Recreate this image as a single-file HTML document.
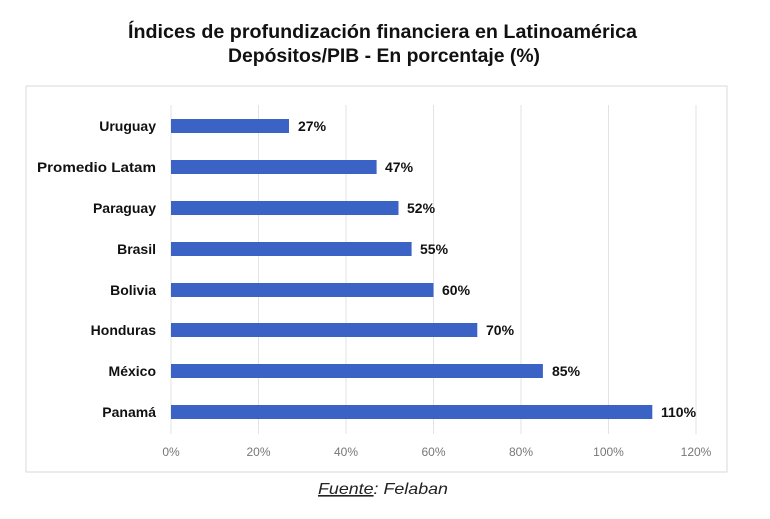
<!DOCTYPE html>
<html><head><meta charset="utf-8"><style>
body{margin:0;background:#fff;width:770px;height:514px;overflow:hidden;font-family:"Liberation Sans",sans-serif}
</style></head><body>
<svg width="770" height="514" xmlns="http://www.w3.org/2000/svg" font-family="Liberation Sans, sans-serif">
<text x="128" y="38" textLength="509" lengthAdjust="spacingAndGlyphs" font-size="19" font-weight="bold" fill="#111">Índices de profundización financiera en Latinoamérica</text>
<text x="228" y="62" textLength="312" lengthAdjust="spacingAndGlyphs" font-size="19" font-weight="bold" fill="#111">Depósitos/PIB - En porcentaje (%)</text>
<rect x="26" y="86" width="701" height="386" fill="#fff" stroke="#d9d9d9" stroke-width="1"/>
<g stroke="#e3e3e3" stroke-width="1">
<line x1="171" y1="105" x2="171" y2="434"/><line x1="258.5" y1="105" x2="258.5" y2="434"/>
<line x1="346" y1="105" x2="346" y2="434"/><line x1="433.5" y1="105" x2="433.5" y2="434"/>
<line x1="521" y1="105" x2="521" y2="434"/><line x1="608.5" y1="105" x2="608.5" y2="434"/>
<line x1="696" y1="105" x2="696" y2="434"/>
</g>
<g fill="#3b63c6">
<rect x="171" y="119" width="118" height="14"/>
<rect x="171" y="160" width="205.6" height="14"/>
<rect x="171" y="201" width="227.5" height="14"/>
<rect x="171" y="242" width="240.6" height="14"/>
<rect x="171" y="283" width="262.5" height="14"/>
<rect x="171" y="323" width="306.3" height="14"/>
<rect x="171" y="364" width="371.9" height="14"/>
<rect x="171" y="405" width="481.3" height="14"/>
</g>
<g font-size="14" font-weight="bold" fill="#111" text-anchor="end">
<text x="156" y="131">Uruguay</text><text x="156" y="172" textLength="119" lengthAdjust="spacingAndGlyphs">Promedio Latam</text>
<text x="156" y="213">Paraguay</text><text x="156" y="254">Brasil</text>
<text x="156" y="295">Bolivia</text><text x="156" y="335">Honduras</text>
<text x="156" y="376">México</text><text x="156" y="417">Panamá</text>
</g>
<g font-size="14" font-weight="bold" fill="#111">
<text x="298" y="131">27%</text><text x="385" y="172">47%</text>
<text x="407" y="213">52%</text><text x="420" y="254">55%</text>
<text x="442" y="295">60%</text><text x="486" y="335">70%</text>
<text x="552" y="376">85%</text><text x="661" y="417">110%</text>
</g>
<g font-size="12" fill="#777" text-anchor="middle">
<text x="171" y="456">0%</text><text x="258.5" y="456">20%</text><text x="346" y="456">40%</text>
<text x="433.5" y="456">60%</text><text x="521" y="456">80%</text><text x="608.5" y="456">100%</text>
<text x="696" y="456">120%</text>
</g>
<text x="318" y="494" textLength="130" lengthAdjust="spacingAndGlyphs" font-size="16" font-style="italic" fill="#222"><tspan text-decoration="underline">Fuente</tspan>: Felaban</text>
</svg>
</body></html>
